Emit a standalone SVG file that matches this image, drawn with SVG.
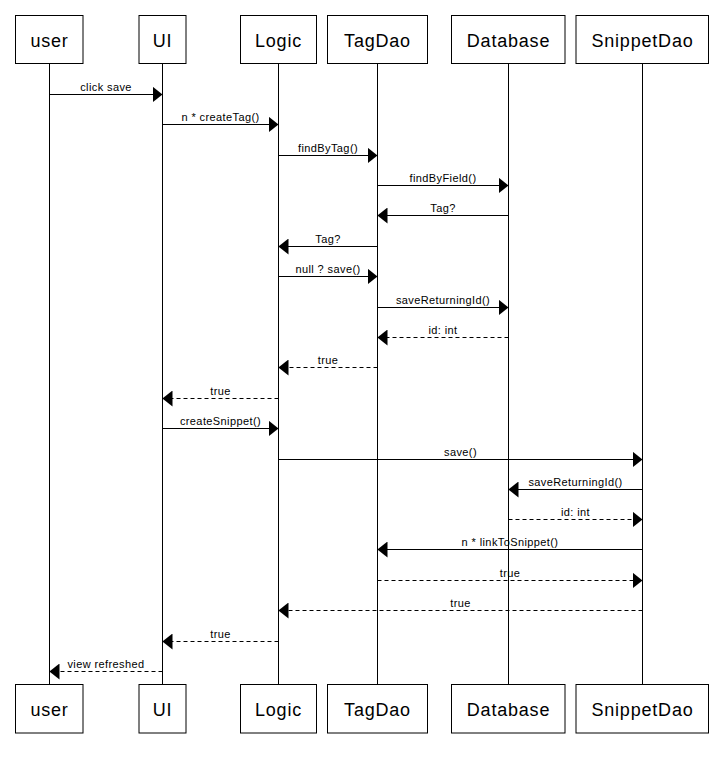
<svg xmlns="http://www.w3.org/2000/svg" width="723" height="758" viewBox="0 0 723 758">
  <style>
    .box { fill: #ffffff; stroke: #000000; stroke-width: 1; }
    .name { font-family: "Liberation Sans", Arial, sans-serif; font-size: 18px; letter-spacing: 0.8px; text-anchor: middle; fill: #000000; }
    .life { stroke: #000000; stroke-width: 1; fill: none; }
    .msg { stroke: #000000; stroke-width: 1; fill: none; marker-end: url(#head); }
    .ret { stroke-dasharray: 4 3; }
    .lbl { font-family: "Liberation Sans", Arial, sans-serif; font-size: 11px; letter-spacing: 0.4px; text-anchor: middle; fill: #000000; }
  </style>
  <defs>
    <marker id="head" markerUnits="userSpaceOnUse" markerWidth="10" markerHeight="16" refX="10" refY="8" orient="auto">
      <path d="M0,0 L10,8 L0,16 Z" fill="#000000" stroke="none"/>
    </marker>
  </defs>
  <rect width="723" height="758" fill="#ffffff"/>

  <!-- lifelines -->
  <g id="lifelines">
    <line class="life" x1="49.5" y1="63.5" x2="49.5" y2="684.5"/>
    <line class="life" x1="162.5" y1="63.5" x2="162.5" y2="684.5"/>
    <line class="life" x1="278.5" y1="63.5" x2="278.5" y2="684.5"/>
    <line class="life" x1="377.5" y1="63.5" x2="377.5" y2="684.5"/>
    <line class="life" x1="508.5" y1="63.5" x2="508.5" y2="684.5"/>
    <line class="life" x1="642.5" y1="63.5" x2="642.5" y2="684.5"/>
  </g>

  <!-- participants, head and foot -->
  <g id="user">
    <rect class="box" x="15.5" y="15.5" width="67.5" height="48"/>
    <text class="name" x="49.5" y="46.5">user</text>
    <rect class="box" x="15.5" y="684.5" width="67.5" height="48.5"/>
    <text class="name" x="49.5" y="715.5">user</text>
  </g>
  <g id="ui">
    <rect class="box" x="139" y="15.5" width="47" height="48"/>
    <text class="name" x="162.5" y="46.5">UI</text>
    <rect class="box" x="139" y="684.5" width="47" height="48.5"/>
    <text class="name" x="162.5" y="715.5">UI</text>
  </g>
  <g id="logic">
    <rect class="box" x="240.5" y="15.5" width="76" height="48"/>
    <text class="name" x="278.5" y="46.5">Logic</text>
    <rect class="box" x="240.5" y="684.5" width="76" height="48.5"/>
    <text class="name" x="278.5" y="715.5">Logic</text>
  </g>
  <g id="tagdao">
    <rect class="box" x="327.5" y="15.5" width="100" height="48"/>
    <text class="name" x="377.5" y="46.5">TagDao</text>
    <rect class="box" x="327.5" y="684.5" width="100" height="48.5"/>
    <text class="name" x="377.5" y="715.5">TagDao</text>
  </g>
  <g id="database">
    <rect class="box" x="451.5" y="15.5" width="113.5" height="48"/>
    <text class="name" x="508.5" y="46.5">Database</text>
    <rect class="box" x="451.5" y="684.5" width="113.5" height="48.5"/>
    <text class="name" x="508.5" y="715.5">Database</text>
  </g>
  <g id="snippetdao">
    <rect class="box" x="576" y="15.5" width="132.5" height="48"/>
    <text class="name" x="642.5" y="46.5">SnippetDao</text>
    <rect class="box" x="576" y="684.5" width="132.5" height="48.5"/>
    <text class="name" x="642.5" y="715.5">SnippetDao</text>
  </g>

  <!-- messages -->
  <g id="messages">
    <line class="msg" x1="49.5" y1="94.5" x2="162.5" y2="94.5"/>
    <text class="lbl" x="106" y="90.5">click save</text>

    <line class="msg" x1="162.5" y1="124.5" x2="278.5" y2="124.5"/>
    <text class="lbl" x="220.5" y="120.5">n * createTag()</text>

    <line class="msg" x1="278.5" y1="155.5" x2="377.5" y2="155.5"/>
    <text class="lbl" x="328" y="151.5">findByTag()</text>

    <line class="msg" x1="377.5" y1="185.5" x2="508.5" y2="185.5"/>
    <text class="lbl" x="443" y="181.5">findByField()</text>

    <line class="msg" x1="508.5" y1="215.5" x2="377.5" y2="215.5"/>
    <text class="lbl" x="443" y="211.5">Tag?</text>

    <line class="msg" x1="377.5" y1="246.5" x2="278.5" y2="246.5"/>
    <text class="lbl" x="328" y="242.5">Tag?</text>

    <line class="msg" x1="278.5" y1="276.5" x2="377.5" y2="276.5"/>
    <text class="lbl" x="328" y="272.5">null ? save()</text>

    <line class="msg" x1="377.5" y1="307.5" x2="508.5" y2="307.5"/>
    <text class="lbl" x="443" y="303.5">saveReturningId()</text>

    <line class="msg ret" x1="508.5" y1="337.5" x2="377.5" y2="337.5"/>
    <text class="lbl" x="443" y="333.5">id: int</text>

    <line class="msg ret" x1="377.5" y1="367.5" x2="278.5" y2="367.5"/>
    <text class="lbl" x="328" y="363.5">true</text>

    <line class="msg ret" x1="278.5" y1="398.5" x2="162.5" y2="398.5"/>
    <text class="lbl" x="220.5" y="394.5">true</text>

    <line class="msg" x1="162.5" y1="428.5" x2="278.5" y2="428.5"/>
    <text class="lbl" x="220.5" y="424.5">createSnippet()</text>

    <line class="msg" x1="278.5" y1="459.5" x2="642.5" y2="459.5"/>
    <text class="lbl" x="460.5" y="455.5">save()</text>

    <line class="msg" x1="642.5" y1="489.5" x2="508.5" y2="489.5"/>
    <text class="lbl" x="575.5" y="485.5">saveReturningId()</text>

    <line class="msg ret" x1="508.5" y1="519.5" x2="642.5" y2="519.5"/>
    <text class="lbl" x="575.5" y="515.5">id: int</text>

    <line class="msg" x1="642.5" y1="549.5" x2="377.5" y2="549.5"/>
    <text class="lbl" x="510" y="545.5">n * linkToSnippet()</text>

    <line class="msg ret" x1="377.5" y1="580.5" x2="642.5" y2="580.5"/>
    <text class="lbl" x="510" y="576.5">true</text>

    <line class="msg ret" x1="642.5" y1="610.5" x2="278.5" y2="610.5"/>
    <text class="lbl" x="460.5" y="606.5">true</text>

    <line class="msg ret" x1="278.5" y1="641.5" x2="162.5" y2="641.5"/>
    <text class="lbl" x="220.5" y="637.5">true</text>

    <line class="msg ret" x1="162.5" y1="671.5" x2="49.5" y2="671.5"/>
    <text class="lbl" x="106" y="667.5">view refreshed</text>
  </g>
</svg>
